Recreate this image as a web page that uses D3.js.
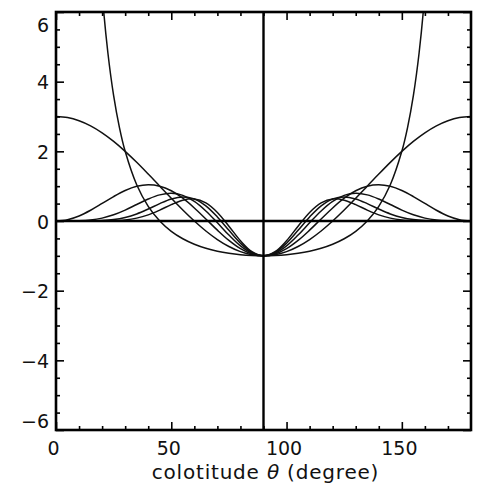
<!DOCTYPE html>
<html>
<head>
<meta charset="utf-8">
<script src="https://cdn.jsdelivr.net/npm/d3@7"></script>
<style>
  body { margin: 0; background: #fff; }
  text { font-family: "DejaVu Sans", sans-serif; fill: #111; }
</style>
</head>
<body>
<div id="chart"></div>
<script>
const W = 477, H = 486;
const margin = {top: 12, right: 6, bottom: 56, left: 56},
    width = W - margin.left - margin.right,
    height = H - margin.top - margin.bottom;

// colatitude grid, degrees
const theta = [0,5,10,15,20,25,30,35,40,45,50,55,60,65,70,75,80,85,90,
    95,100,105,110,115,120,125,130,135,140,145,150,155,160,165,170,175,180];

// curve starting at 3 on the poles
const curveA = [3.000,2.970,2.879,2.732,2.532,2.286,2.000,1.684,1.347,1.000,0.653,0.316,0.000,-0.286,-0.532,-0.732,-0.879,-0.970,-1.000,
    -0.970,-0.879,-0.732,-0.532,-0.286,0.000,0.316,0.653,1.000,1.347,1.684,2.000,2.286,2.532,2.732,2.879,2.970,3.000];

// four curves rising from 0 at the poles
const curve2 = [0.000,0.038,0.145,0.308,0.503,0.702,0.875,0.996,1.042,1.000,0.868,0.654,0.375,0.059,-0.263,-0.558,-0.794,-0.947,-1.000,
    -0.947,-0.794,-0.558,-0.263,0.059,0.375,0.654,0.868,1.000,1.042,0.996,0.875,0.702,0.503,0.308,0.145,0.038,0.000];
const curve4 = [0.000,0.000,0.006,0.029,0.083,0.178,0.313,0.473,0.631,0.750,0.794,0.735,0.563,0.289,-0.050,-0.404,-0.714,-0.925,-1.000,
    -0.925,-0.714,-0.404,-0.050,0.289,0.563,0.735,0.794,0.750,0.631,0.473,0.313,0.178,0.083,0.029,0.006,0.000,0.000];
const curve6 = [0.000,0.000,0.000,0.003,0.013,0.041,0.102,0.203,0.343,0.500,0.633,0.692,0.633,0.436,0.117,-0.268,-0.637,-0.903,-1.000,
    -0.903,-0.637,-0.268,0.117,0.436,0.633,0.692,0.633,0.500,0.343,0.203,0.102,0.041,0.013,0.003,0.000,0.000,0.000];
const curve8 = [0.000,0.000,0.000,0.000,0.002,0.009,0.031,0.083,0.176,0.313,0.469,0.598,0.633,0.520,0.246,-0.149,-0.565,-0.882,-1.000,
    -0.882,-0.565,-0.149,0.246,0.520,0.633,0.598,0.469,0.313,0.176,0.083,0.031,0.009,0.002,0.000,0.000,0.000,0.000];

// steep curve, its own grid (goes off the top)
const thetaB = [15,17.5,20,22.5,25,27.5,30,35,40,45,50,55,60,65,70,75,80,85,90,
    95,100,105,110,115,120,125,130,135,140,145,150,152.5,155,157.5,160,162.5,165];
const curveB = [12.93,9.06,6.55,4.83,3.60,2.69,2.00,1.04,0.42,0.000,-0.296,-0.510,-0.667,-0.783,-0.868,-0.928,-0.969,-0.992,-1.000,
    -0.992,-0.969,-0.928,-0.868,-0.783,-0.667,-0.510,-0.296,0.000,0.42,1.04,2.00,2.69,3.60,4.83,6.55,9.06,12.93];

const xTicks = [0, 50, 100, 150];
const yTicks = [-6, -4, -2, 0, 2, 4, 6];

const svg = d3.select("#chart")
    .append("svg")
    .attr("width", W)
    .attr("height", H)
    .append("g")
    .attr("transform", `translate(${margin.left}, ${margin.top})`);

const x = d3.scaleLinear().domain([0, 180]).range([0, width]);
const y = d3.scaleLinear().domain([-6, 6]).range([height, 0]);

svg.append("clipPath").attr("id", "plot")
    .append("rect").attr("width", width).attr("height", height);

const line = d3.line()
    .x(d => x(d[0]))
    .y(d => y(d[1]))
    .curve(d3.curveCatmullRom);

const series = [
    [theta, curveA], [theta, curve2], [theta, curve4],
    [theta, curve6], [theta, curve8], [thetaB, curveB]
];

svg.append("g")
    .attr("clip-path", "url(#plot)")
    .selectAll("path")
    .data(series)
    .join("path")
    .attr("d", s => line(s[0].map((t, i) => [t, s[1][i]])))
    .attr("fill", "none")
    .attr("stroke", "#111")
    .attr("stroke-width", 1.5);

// zero line and equator line
svg.append("line")
    .attr("x1", 0).attr("x2", width)
    .attr("y1", y(0)).attr("y2", y(0))
    .attr("stroke", "#000").attr("stroke-width", 2.4);
svg.append("line")
    .attr("x1", x(90)).attr("x2", x(90))
    .attr("y1", 0).attr("y2", height)
    .attr("stroke", "#000").attr("stroke-width", 2.4);

// ticks, all pointing inward
function ticks(axis, tr, vals, size, labels) {
    const g = svg.append("g")
        .attr("transform", tr)
        .call(axis.tickValues(vals).tickSize(-size).tickPadding(labels ? 7 : 0)
            .tickFormat(labels ? (d => d < 0 ? "\u2212" + Math.abs(d) : d) : ""));
    g.select(".domain").remove();
    g.selectAll("line").attr("stroke", "#000").attr("stroke-width", 1.6);
    g.selectAll("text").attr("font-size", 19).style("font-family", "DejaVu Sans")
        .attr("fill", "#222");
    return g;
}

const xMinor = d3.range(10, 180, 10).filter(d => d % 50 !== 0);
const yMinor = d3.range(-5.5, 6, 0.5).filter(d => d % 2 !== 0);

const bottom = ticks(d3.axisBottom(x), `translate(0, ${height})`, xTicks, 8, true);
bottom.selectAll("text").attr("y", 12).attr("dx", -3);
ticks(d3.axisBottom(x), `translate(0, ${height})`, xMinor, 4, false);
ticks(d3.axisTop(x), "translate(0, 0)", xTicks, 8, false);
ticks(d3.axisTop(x), "translate(0, 0)", xMinor, 4, false);

const left = ticks(d3.axisLeft(y), "translate(0, 0)", yTicks, 8, true);
left.selectAll(".tick text")
    .attr("dy", d => d === 6 ? "1.0em" : d === -6 ? "-0.12em" : "0.38em");
ticks(d3.axisLeft(y), "translate(0, 0)", yMinor, 4, false);
ticks(d3.axisRight(y), `translate(${width}, 0)`, yTicks, 8, false);
ticks(d3.axisRight(y), `translate(${width}, 0)`, yMinor, 4, false);

// frame
svg.append("rect")
    .attr("width", width).attr("height", height)
    .attr("fill", "none")
    .attr("stroke", "#000")
    .attr("stroke-width", 2.6);

const lab = svg.append("text")
    .attr("x", width / 2 + 2)
    .attr("y", height + 49)
    .attr("text-anchor", "middle")
    .attr("font-size", 20)
    .attr("letter-spacing", 0.8)
    .attr("fill", "#222");
lab.append("tspan").text("colotitude ");
lab.append("tspan").attr("font-style", "italic").text("\u03b8");
lab.append("tspan").text(" (degree)");
</script>
</body>
</html>
